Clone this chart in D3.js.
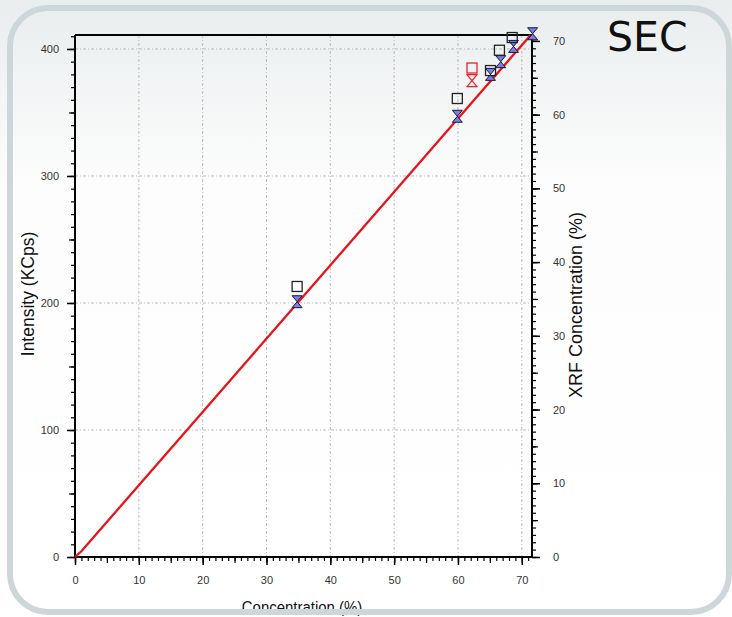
<!DOCTYPE html>
<html>
<head>
<meta charset="utf-8">
<script src="https://cdn.jsdelivr.net/npm/d3@7"></script>
<style>
  body { margin: 0; background: #fff; }
  svg { display: block; }
  .tick text { fill: #333; font-family: 'Liberation Sans Narrow', 'Liberation Sans', Arial, sans-serif; font-size: 11px; }
</style>
</head>
<body>
<div class="container"></div>
<script>
// calibration line (concentration %, intensity KCps)
const lineConc = [0, 1, 71.4];
const lineInt = [0, 4.5, 411];

// measured points (open black squares)
const sqConc = [34.8, 59.9, 65.1, 66.5, 68.5];
const sqInt = [213, 361, 383, 399, 409];

// calculated points (blue hourglass)
const hgConc = [34.8, 59.9, 65.1, 66.7, 68.7, 71.7];
const hgInt = [201, 347, 380, 390, 402, 412];

// outlier sample (red)
const redConc = [62.2];
const redSqInt = [385];
const redHgInt = [375];

const xTicks = [0, 10, 20, 30, 40, 50, 60, 70];
const yLeftTicks = [0, 100, 200, 300, 400];
const yRightTicks = [0, 10, 20, 30, 40, 50, 60, 70];

let W = 732, H = 617;
let plot = { left: 75, right: 532, top: 35, bottom: 557 };

let svg = d3.select('.container').append('svg')
  .attr('width', W).attr('height', H);

let defs = svg.append('defs');
let grad = defs.append('linearGradient').attr('id', 'bg')
  .attr('x1', 0).attr('y1', 0).attr('x2', 0).attr('y2', 1);
grad.append('stop').attr('offset', '0%').attr('stop-color', '#e9edee');
grad.append('stop').attr('offset', '30%').attr('stop-color', '#fdfdfd');
grad.append('stop').attr('offset', '100%').attr('stop-color', '#ffffff');

svg.append('rect').attr('width', W).attr('height', H).attr('fill', 'url(#bg)');

let x = d3.scaleLinear().domain([0, 71.6]).range([plot.left, plot.right]);
let yL = d3.scaleLinear().domain([0, 411]).range([plot.bottom, plot.top]);
let yR = d3.scaleLinear().domain([0, 70.8]).range([plot.bottom, plot.top]);

// grid
let grid = svg.append('g').attr('stroke', '#b4b4b4').attr('stroke-width', 0.9)
  .attr('stroke-dasharray', '3,2,1,2');
grid.selectAll('.gx').data(xTicks.filter(d => d > 0)).enter().append('line')
  .attr('x1', d => x(d)).attr('x2', d => x(d))
  .attr('y1', plot.top).attr('y2', plot.bottom);
grid.selectAll('.gy').data(yLeftTicks.filter(d => d > 0)).enter().append('line')
  .attr('x1', plot.left).attr('x2', plot.right)
  .attr('y1', d => yL(d)).attr('y2', d => yL(d));

// minor / medium ticks
function minorAxis(axisFn, scale, values, size, transform) {
  svg.append('g').attr('transform', transform)
    .call(axisFn(scale).tickValues(values).tickSize(size).tickFormat(''))
    .call(g => g.select('.domain').remove())
    .call(g => g.selectAll('line').attr('stroke', '#000').attr('stroke-width', 1.2));
}
let xMinor = d3.range(0, 72, 1);
let yLMinor = d3.range(0, 411, 10);
let yRMinor = d3.range(0, 71, 1);
minorAxis(d3.axisBottom, x, xMinor, 4, `translate(0,${plot.bottom})`);
minorAxis(d3.axisBottom, x, xMinor.filter(d => d % 5 === 0), 6, `translate(0,${plot.bottom})`);
minorAxis(d3.axisLeft, yL, yLMinor, 4, `translate(${plot.left},0)`);
minorAxis(d3.axisLeft, yL, yLMinor.filter(d => d % 50 === 0), 6, `translate(${plot.left},0)`);
minorAxis(d3.axisRight, yR, yRMinor, 4, `translate(${plot.right},0)`);
minorAxis(d3.axisRight, yR, yRMinor.filter(d => d % 5 === 0), 6, `translate(${plot.right},0)`);

// major axes
function styleAxis(g) {
  g.select('.domain').remove();
  g.selectAll('line').attr('stroke', '#000').attr('stroke-width', 1.5);
}
svg.append('g').attr('transform', `translate(0,${plot.bottom})`)
  .call(d3.axisBottom(x).tickValues(xTicks).tickSize(8).tickPadding(11))
  .call(styleAxis);
svg.append('g').attr('transform', `translate(${plot.left},0)`)
  .call(d3.axisLeft(yL).tickValues(yLeftTicks).tickSize(8).tickPadding(8))
  .call(styleAxis);
svg.append('g').attr('transform', `translate(${plot.right},0)`)
  .call(d3.axisRight(yR).tickValues(yRightTicks).tickSize(8).tickPadding(13))
  .call(styleAxis);

// frame lines
let frame = svg.append('g').attr('stroke', '#000').attr('stroke-width', 2);
frame.append('line').attr('x1', plot.left).attr('x2', plot.right).attr('y1', plot.bottom).attr('y2', plot.bottom);
frame.append('line').attr('x1', plot.left).attr('x2', plot.right).attr('y1', plot.top).attr('y2', plot.top);
frame.append('line').attr('x1', plot.left).attr('x2', plot.left).attr('y1', plot.top).attr('y2', plot.bottom);
frame.append('line').attr('x1', plot.right).attr('x2', plot.right).attr('y1', plot.top).attr('y2', plot.bottom);

// calibration line
let line = d3.line().x(d => x(d[0])).y(d => yL(d[1]));
svg.append('path').datum(lineConc.map((c, i) => [c, lineInt[i]]))
  .attr('d', line).attr('fill', 'none').attr('stroke', '#e8141a').attr('stroke-width', 2.3);

// markers
let hourglass = 'M-5,-6L5,-6L0,0ZM0,0L5,6L-5,6Z';

svg.append('g').selectAll('path')
  .data(hgConc.map((c, i) => [c, hgInt[i]])).enter().append('path')
  .attr('d', hourglass)
  .attr('transform', d => `translate(${x(d[0])},${yL(d[1])})`)
  .attr('fill', '#7b7de6').attr('stroke', '#1a1a3a').attr('stroke-width', 1);

svg.append('g').selectAll('rect')
  .data(sqConc.map((c, i) => [c, sqInt[i]])).enter().append('rect')
  .attr('x', d => x(d[0]) - 5).attr('y', d => yL(d[1]) - 5)
  .attr('width', 10).attr('height', 10)
  .attr('fill', 'none').attr('stroke', '#222').attr('stroke-width', 1.3);

svg.append('g').selectAll('rect')
  .data(redConc.map((c, i) => [c, redSqInt[i]])).enter().append('rect')
  .attr('x', d => x(d[0]) - 5).attr('y', d => yL(d[1]) - 5)
  .attr('width', 10).attr('height', 10)
  .attr('fill', 'none').attr('stroke', '#e8242a').attr('stroke-width', 1.3);

svg.append('g').selectAll('path')
  .data(redConc.map((c, i) => [c, redHgInt[i]])).enter().append('path')
  .attr('d', hourglass)
  .attr('transform', d => `translate(${x(d[0])},${yL(d[1])})`)
  .attr('fill', 'none').attr('stroke', '#e8242a').attr('stroke-width', 1.2);

// axis titles
let titleFont = "'Liberation Sans', Arial, sans-serif";
svg.append('text').attr('transform', 'translate(34,294) rotate(-90)')
  .attr('text-anchor', 'middle').style('font-family', titleFont).style('font-size', '17.5px')
  .attr('fill', '#111').text('Intensity (KCps)');
svg.append('text').attr('transform', 'translate(582,305) rotate(-90)')
  .attr('text-anchor', 'middle').style('font-family', titleFont).style('font-size', '18px')
  .attr('fill', '#111').text('XRF Concentration (%)');
svg.append('text').attr('transform', 'translate(302,613) scale(0.88,1)')
  .attr('text-anchor', 'middle').style('font-family', titleFont).style('font-size', '17px')
  .attr('fill', '#111').text('Concentration (%)');

// rounded slide frame
svg.append('rect').attr('x', 10).attr('y', 8).attr('width', 719).attr('height', 604)
  .attr('rx', 38).attr('ry', 38)
  .attr('fill', 'none').attr('stroke', '#cdd7d9').attr('stroke-width', 6);

svg.append('text').attr('x', 607).attr('y', 51)
  .style('font-family', "'DejaVu Sans', sans-serif").style('font-size', '41px')
  .attr('fill', '#111').text('SEC');
</script>
</body>
</html>
